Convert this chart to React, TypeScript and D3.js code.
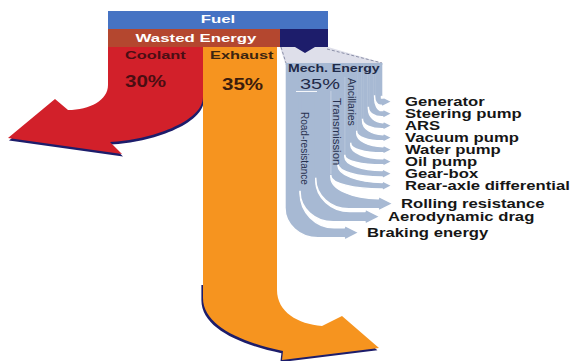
import React from "react";
import * as d3 from "d3";

const W = 572;
const H = 361;

// Where the fuel energy goes (% of fuel)
const stageNames = ["Coolant", "Exhaust", "Mech. Energy"];
const stageShares = [30, 35, 35];

// Consumers of the mechanical energy (% of fuel)
const flowNames = [
  "Generator",
  "Steering pump",
  "ARS",
  "Vacuum pump",
  "Water pump",
  "Oil pump",
  "Gear-box",
  "Rear-axle differential",
  "Rolling resistance",
  "Aerodynamic drag",
  "Braking energy",
];
const flowShares = [3.0, 2.2, 2.1, 2.1, 2.1, 2.1, 2.5, 2.5, 5.4, 5.6, 5.4];
const groupNames = ["Ancillaries", "Transmission", "Road-resistance"];
const flowGroups = [0, 0, 0, 0, 0, 0, 1, 1, 2, 2, 2];

// ---- layout ----
const FONT = "'Liberation Sans', Arial, Helvetica, sans-serif";
const SX = 1.39; // wide lettering
const FUEL_TOP = 11;
const BAND_H = 18;
const STAGE_TOP = FUEL_TOP + 2 * BAND_H; // 47
const COL_TOP = 63;
const labelRows = [0, 1, 2, 3, 4, 5, 6, 7, 8.5, 9.58, 10.92];
const labelXs = [405, 405, 405, 405, 405, 405, 405, 405, 401, 388, 367];
const groupDrop = [9, 13, 30]; // vertical depth of each group's bend
const groupTipGap = [13, 13, 8];

const stageLeft = d3.scaleOrdinal<string, number>().domain(stageNames).range([108, 203, 280]);
const stageRight = d3.scaleOrdinal<string, number>().domain(stageNames).range([203, 277, 328]);
const colX = d3.scaleLinear().domain([0, stageShares[2]]).range([383, 285]);
const rowY = d3.scaleLinear().domain([0, 7]).range([106, 190]);

const C = {
  fuel: "#4673c3",
  wasted: "#b4472f",
  navy: "#1d1d6b",
  red: "#d2202a",
  orange: "#f6941f",
  mech: "#a7b9d3",
  trap: "#dedfea",
  dash: "#8c90a8",
  dark: "#161616",
  mechText: "#1f2a48",
};

const K = 0.552;

type Strand = {
  name: string;
  xl: number;
  xr: number;
  yc: number;
  t: number;
  half: number;
  tip: number;
  hx: number;
  ya: number;
  yb: number;
  yt: number;
  rx: number;
  yi: number;
  rxi: number;
};

function buildStrands(): Strand[] {
  const out: Strand[] = [];
  let cum = 0;
  flowNames.forEach((name, i) => {
    const share = flowShares[i];
    const g = flowGroups[i];
    const xr = colX(cum);
    const xl = colX(cum + share);
    cum += share;
    const yc = rowY(labelRows[i]) - 4.3;
    const t = 3.5 + share * 1.2;
    const half = t * 0.7 + 0.3;
    const tip = labelXs[i] - groupTipGap[g];
    const hx = tip - half * 2;
    const ry = groupDrop[g];
    const yb = yc + t / 2;
    const yt = yc - t / 2;
    const ya = yb - ry;
    const rx = g === 2 ? Math.min(ry * 1.1, hx - xl - 0.5) : Math.max(0, hx - xl - 1);
    const prev = out[i - 1];
    const yi = prev ? prev.ya + 1.5 : yt - ry * 0.5;
    const rxi = Math.max(0, Math.min(hx - xr, prev ? prev.rx + 1 : 0));
    out.push({ name, xl, xr, yc, t, half, tip, hx, ya, yb, yt, rx, yi, rxi });
  });
  return out;
}

function strandPath(s: Strand): string {
  const p = d3.path();
  p.moveTo(s.xl, COL_TOP - 4);
  p.lineTo(s.xl, s.ya);
  p.bezierCurveTo(s.xl, s.ya + K * (s.yb - s.ya), s.xl + s.rx - K * s.rx, s.yb, s.xl + s.rx, s.yb);
  p.lineTo(s.hx, s.yb);
  p.lineTo(s.hx, s.yc + s.half);
  p.lineTo(s.tip, s.yc);
  p.lineTo(s.hx, s.yc - s.half);
  p.lineTo(s.hx, s.yt);
  p.lineTo(s.xr + s.rxi, s.yt);
  p.bezierCurveTo(s.xr + s.rxi - K * s.rxi, s.yt, s.xr, s.yi + K * (s.yt - s.yi), s.xr, s.yi);
  p.lineTo(s.xr, COL_TOP - 4);
  p.closePath();
  return p.toString();
}

// Coolant arrow: column bending down-left
function coolantPath(x0: number, x1: number, y0: number): string {
  const p = d3.path();
  p.moveTo(x0, y0);
  p.lineTo(x0, y0 + 38);
  p.bezierCurveTo(x0, y0 + 53, x0 - 18, y0 + 63, x0 - 40, y0 + 63);
  p.lineTo(x0 - 53, y0 + 52);
  p.lineTo(x0 - 100, y0 + 91);
  p.lineTo(x0 + 14, y0 + 107);
  p.lineTo(x0 + 2, y0 + 95);
  p.bezierCurveTo(x0 + 42, y0 + 93, x1, y0 + 75, x1, y0 + 50);
  p.lineTo(x1, y0);
  p.closePath();
  return p.toString();
}

// Exhaust arrow: long column bending down-right
function exhaustPath(x0: number, x1: number, y0: number, yBend: number): string {
  const p = d3.path();
  p.moveTo(x0, y0);
  p.lineTo(x1, y0);
  p.lineTo(x1, yBend);
  p.bezierCurveTo(x1, yBend + 22, x1 + 21, yBend + 34, x1 + 45, yBend + 36);
  p.lineTo(x1 + 65, yBend + 26);
  p.lineTo(x1 + 102, yBend + 58);
  p.lineTo(x1 + 5, yBend + 70);
  p.lineTo(x1 + 6, yBend + 61);
  p.bezierCurveTo(x1 - 37, yBend + 52, x0, yBend + 35, x0, yBend + 8);
  p.closePath();
  return p.toString();
}

function WideText(props: {
  x: number;
  y: number;
  size: number;
  fill: string;
  weight?: string | number;
  sx?: number;
  anchor?: "start" | "middle" | "end";
  children: React.ReactNode;
}) {
  const { x, y, size, fill, weight = "bold", sx = SX, anchor = "start", children } = props;
  return (
    <text
      transform={`translate(${x},${y}) scale(${sx},1)`}
      fontFamily={FONT}
      fontSize={size}
      fontWeight={weight}
      fill={fill}
      textAnchor={anchor}
    >
      {children}
    </text>
  );
}

export default function App() {
  const strands = buildStrands();
  const cx = stageLeft("Coolant"), cr = stageRight("Coolant");
  const ex = stageLeft("Exhaust"), er = stageRight("Exhaust");
  const mx = stageLeft("Mech. Energy"), mr = stageRight("Mech. Energy");
  const fuelL = stageLeft(stageNames[0]);
  const fuelR = stageRight(stageNames[2]);
  const notchC = (mx + mr) / 2 + 1;

  const redD = coolantPath(cx, cr, STAGE_TOP);
  const orangeD = exhaustPath(ex, er, STAGE_TOP, 290);

  // group boundary lines inside the mechanical column
  const roadEdge = strands[7].xl;
  const transEdge = strands[5].xl;

  return (
    <svg
      width={W}
      height={H}
      viewBox={`0 0 ${W} ${H}`}
      style={{ position: "absolute", left: 0, top: 0, background: "#fff" }}
    >
      <defs>
        <clipPath id="mechClip">
          <rect x={270} y={COL_TOP} width={W - 270} height={H - COL_TOP} />
        </clipPath>
        <clipPath id="exShadowClip">
          <rect x={0} y={285} width={W} height={H - 285} />
        </clipPath>
      </defs>
      <rect x={0} y={0} width={W} height={H} fill="#fff" />

      {/* exhaust & coolant flows */}
      <g clipPath="url(#exShadowClip)">
        <path d={orangeD} fill={C.navy} transform="translate(-1.6,2.2)" />
      </g>
      <path d={redD} fill={C.navy} transform="translate(1,2.4)" />
      <path d={redD} fill={C.red} />
      <path d={orangeD} fill={C.orange} />

      {/* link from fuel block to mechanical column */}
      <polygon
        points={`${mx},${STAGE_TOP} ${mr},${STAGE_TOP} ${colX(0)},${COL_TOP} ${colX(stageShares[2])},${COL_TOP}`}
        fill={C.trap}
        stroke="none"
      />
      <line x1={mx + 1} y1={STAGE_TOP} x2={colX(stageShares[2]) + 1} y2={COL_TOP} stroke={C.dash} strokeWidth={1} strokeDasharray="3 2" />
      <line x1={mr - 1} y1={STAGE_TOP + 2} x2={colX(0) - 1} y2={COL_TOP} stroke={C.dash} strokeWidth={1} strokeDasharray="3 2" />

      {/* top blocks */}
      <rect x={fuelL} y={FUEL_TOP} width={fuelR - fuelL} height={BAND_H} fill={C.fuel} />
      <rect x={fuelL} y={FUEL_TOP + BAND_H} width={mx - fuelL} height={BAND_H} fill={C.wasted} />
      <path
        d={`M${mx},${FUEL_TOP + BAND_H} H${mr} V${STAGE_TOP} H${notchC + 10} L${notchC},${STAGE_TOP + 6} L${notchC - 10},${STAGE_TOP} H${mx} Z`}
        fill={C.navy}
      />

      {/* mechanical energy column and its branches */}
      <g clipPath="url(#mechClip)">
        {strands
          .slice()
          .reverse()
          .map((s) => (
            <path key={s.name} d={strandPath(s)} fill={C.mech} stroke="#fff" strokeWidth={1.4} strokeLinejoin="round" />
          ))}
        {strands.slice(0, strands.length - 1).map((s) => (
          <rect key={"c" + s.name} x={s.xl - 1.2} y={COL_TOP - 2} width={2.4} height={s.ya - COL_TOP + 1} fill={C.mech} />
        ))}
        <rect x={colX(stageShares[2]) + 0.7} y={COL_TOP} width={colX(0) - colX(stageShares[2]) - 1.4} height={2} fill={C.mech} />
        <line x1={roadEdge} y1={COL_TOP + 28} x2={roadEdge} y2={strands[7].ya - 2} stroke="#fff" strokeOpacity={0.35} strokeWidth={1} />
        <line x1={transEdge} y1={COL_TOP + 14} x2={transEdge} y2={strands[5].ya - 2} stroke="#fff" strokeOpacity={0.2} strokeWidth={1} />
      </g>

      {/* block labels */}
      <WideText x={(fuelL + fuelR) / 2} y={23.3} size={11.6} fill="#fff" anchor="middle" sx={1.45}>
        Fuel
      </WideText>
      <WideText x={196} y={41.7} size={11.6} fill="#fff" anchor="middle" sx={1.45}>
        Wasted Energy
      </WideText>
      <WideText x={cx + 17} y={59} size={11.6} fill="#4a0e14" sx={1.41}>
        {stageNames[0]}
      </WideText>
      <WideText x={cx + 17} y={87.3} size={15.8} fill="#4a0e12" sx={1.3}>
        {stageShares[0]}%
      </WideText>
      <WideText x={ex + 7} y={59} size={11.6} fill="#3c2410" sx={1.41}>
        {stageNames[1]}
      </WideText>
      <WideText x={ex + 19} y={90} size={15.8} fill="#3c1c0c" sx={1.3}>
        {stageShares[1]}%
      </WideText>
      <WideText x={colX(stageShares[2]) + 3} y={71.7} size={10} fill={C.mechText} sx={1.41}>
        {stageNames[2]}
      </WideText>
      <WideText x={300} y={89} size={15} fill={C.mechText} weight="normal" sx={1.33}>
        {stageShares[2]}%
      </WideText>
      <line x1={296} y1={91.5} x2={317} y2={91.5} stroke="#f4f6fa" strokeWidth={1} />

      {/* group labels */}
      {[
        { name: groupNames[0], x: 348, y: 78, size: 10.5 },
        { name: groupNames[1], x: 333, y: 98, size: 11.4 },
        { name: groupNames[2], x: 301, y: 112, size: 10 },
      ].map((g) => (
        <text
          key={g.name}
          transform={`translate(${g.x},${g.y}) rotate(90)`}
          fontFamily={FONT}
          fontSize={g.size}
          fill="#27314f"
        >
          {g.name}
        </text>
      ))}

      {/* consumer labels */}
      {strands.map((s, i) => (
        <WideText key={"l" + s.name} x={labelXs[i]} y={rowY(labelRows[i])} size={12} fill={C.dark}>
          {s.name}
        </WideText>
      ))}
    </svg>
  );
}
